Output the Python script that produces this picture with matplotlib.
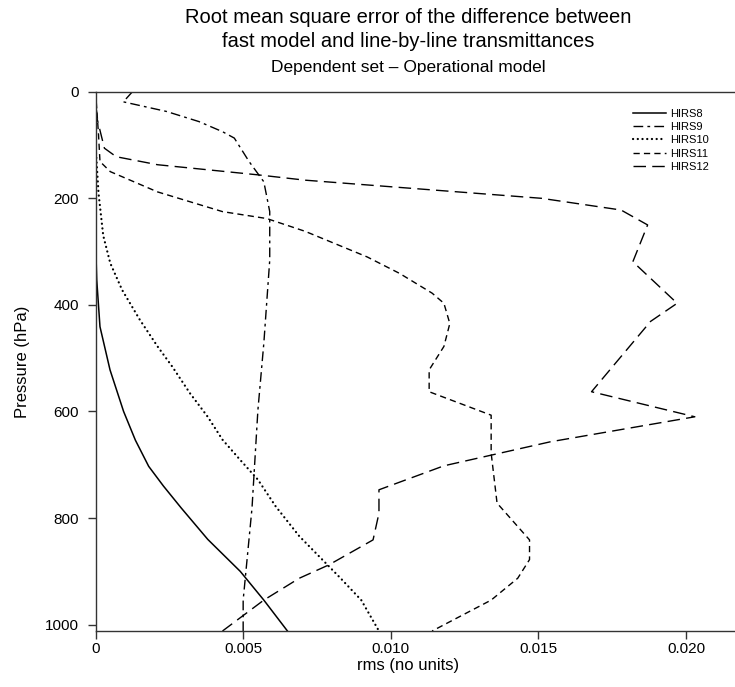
import matplotlib
matplotlib.use("Agg")
import matplotlib.pyplot as plt

plt.rcParams["font.family"] = ["Liberation Sans", "DejaVu Sans"]
plt.rcParams["lines.scale_dashes"] = False

# rms values (x) against pressure levels (y, hPa)
hirs8_rms = [0.0, 0.0, 0.00004, 0.00015, 0.00049, 0.00095, 0.00135, 0.0018, 0.0023, 0.0029, 0.0038, 0.0049, 0.0057, 0.0065]
hirs8_p = [0, 280, 353, 441, 522, 600, 654, 703, 740, 781, 840, 900, 954, 1012]

hirs9_rms = [0.00125, 0.00094, 0.0024, 0.0035, 0.0043, 0.0047, 0.0052, 0.0057, 0.0059, 0.0059, 0.0057, 0.0055, 0.0053, 0.0050, 0.0050]
hirs9_p = [0, 19, 37, 56, 75, 87, 131, 169, 225, 316, 472, 597, 781, 954, 1012]

hirs10_rms = [0.0, 0.0, 0.0001, 0.00026, 0.0005, 0.0009, 0.0015, 0.0021, 0.0026, 0.0032, 0.0038, 0.0043, 0.0049, 0.0055, 0.0061, 0.0069, 0.0083, 0.0090, 0.0096]
hirs10_p = [0, 100, 190, 270, 322, 372, 428, 478, 516, 566, 610, 653, 691, 728, 778, 834, 913, 954, 1012]

hirs11_rms = [0.0, 0.0001, 0.00015, 0.0005, 0.0021, 0.0043, 0.0058, 0.0071, 0.0092, 0.0103, 0.0114, 0.0118, 0.0120, 0.0118, 0.0113, 0.0113,
              0.0134, 0.0134, 0.0136, 0.0147, 0.0147, 0.0143, 0.0134, 0.0114]
hirs11_p = [0, 80, 131, 150, 188, 225, 238, 262, 310, 341, 378, 397, 435, 478, 522, 563,
            607, 678, 772, 841, 878, 913, 954, 1012]

hirs12_rms = [0.0, 0.00005, 0.0003, 0.0007, 0.0021, 0.0055, 0.0071, 0.0151, 0.0178, 0.0187, 0.0182, 0.0197, 0.0188, 0.0168, 0.0203,
              0.0154, 0.0134, 0.0118, 0.0096, 0.0096, 0.0094, 0.0079, 0.0069, 0.0057, 0.0043]
hirs12_p = [0, 50, 106, 122, 137, 156, 166, 200, 222, 250, 319, 397, 431, 563, 610,
            657, 682, 702, 747, 791, 841, 888, 913, 954, 1012]

x_ticks = [0, 0.005, 0.010, 0.015, 0.020]
x_tick_labels = ["0", "0.005", "0.010", "0.015", "0.020"]
y_ticks = [0, 200, 400, 600, 800, 1000]

fig = plt.figure(figsize=(7.35, 6.87), dpi=100)
ax = fig.add_axes([0.13, 0.0815, 0.87, 0.785])

ax.plot(hirs8_rms, hirs8_p, color="black", lw=1.1, label="HIRS8")
ax.plot(hirs9_rms, hirs9_p, color="black", lw=1.0, linestyle=(0, (7, 3, 2, 3)), label="HIRS9")
ax.plot(hirs10_rms, hirs10_p, color="black", lw=1.6, linestyle=(0, (0.1, 3.3)),
        dash_capstyle="round", label="HIRS10")
ax.plot(hirs11_rms, hirs11_p, color="black", lw=1.0, linestyle=(0, (4.5, 3)), label="HIRS11")
ax.plot(hirs12_rms, hirs12_p, color="black", lw=1.0, linestyle=(0, (9, 4.5)), label="HIRS12")

ax.set_xlim(0, 0.02166)
ax.set_ylim(1012, 0)
ax.set_xticks(x_ticks)
ax.set_xticklabels(x_tick_labels)
ax.set_yticks(y_ticks)

for side in ["left", "bottom", "top"]:
    ax.spines[side].set_color("#333333")
    ax.spines[side].set_linewidth(1.0)
ax.spines["right"].set_visible(False)
ax.tick_params(axis="both", which="both", direction="out", length=5.8, width=1.0,
               color="#333333", labelsize=11)
ax.tick_params(axis="y", pad=6)
ax.tick_params(axis="x", pad=2)
ax.tick_params(axis="x", top=False)

ax.set_ylabel("Pressure (hPa)", fontsize=12)
ax.yaxis.set_label_coords(-0.102, 0.5)
ax.set_xlabel("rms (no units)", fontsize=12)
ax.xaxis.set_label_coords(0.489, -0.05)

fig.text(0.555, 0.975, "Root mean square error of the difference between",
         ha="center", va="center", fontsize=14.5)
fig.text(0.555, 0.939, "fast model and line-by-line transmittances",
         ha="center", va="center", fontsize=14.5)
fig.text(0.555, 0.902, "Dependent set \u2013 Operational model",
         ha="center", va="center", fontsize=12.5)

ax.legend(loc="upper left", bbox_to_anchor=(0.861, 0.842), bbox_transform=fig.transFigure,
          frameon=False, fontsize=8, handlelength=3.0, handletextpad=0.35,
          labelspacing=0.3, borderpad=0, borderaxespad=0)

fig.savefig("out.png", dpi=100)
